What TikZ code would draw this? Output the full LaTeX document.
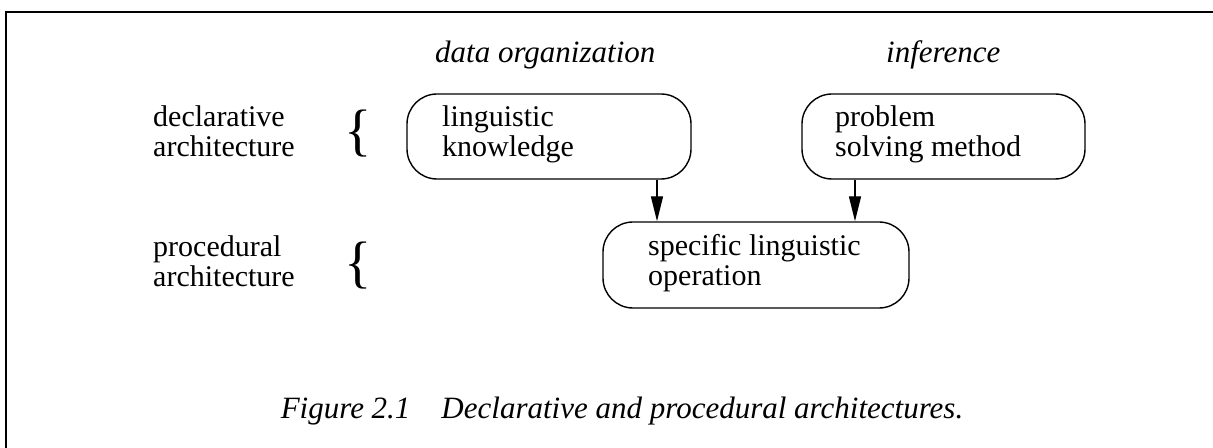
\documentclass[tikz,border=0pt]{standalone}
\usepackage{fontspec}
\setmainfont{Liberation Serif}
\usetikzlibrary{arrows.meta}
\begin{document}
\begin{tikzpicture}[x=1bp,y=-1bp,
  lbl/.style={inner sep=0pt, anchor=base west, font=\fontsize{30bp}{30bp}\selectfont},
  hdr/.style={inner sep=0pt, anchor=base west, font=\fontsize{31bp}{31bp}\selectfont\itshape},
  roundbox/.style={draw, line width=1.4bp, rounded corners=30bp, inner sep=0pt},
  brc/.style={inner sep=0pt, anchor=base, font=\fontsize{57bp}{57bp}\selectfont},
  arr/.style={line width=1.4bp, -{Triangle[length=25bp,width=12bp]}}
]
\useasboundingbox (0,0) rectangle (1213,448);
% frame
\coordinate (fbl) at (6,448);
\coordinate (ftl) at (6,12);
\coordinate (ftr) at (1213,12);
\draw[line width=2bp] (fbl) -- (ftl) -- (ftr);

% headers
\node[hdr] (h1) at (435,63) {data organization};
\node[hdr] (h2) at (886,63) {inference};

% boxes
\node[roundbox, minimum width=284bp, minimum height=85bp] (lk) at (549,136.5) {};
\node[roundbox, minimum width=283bp, minimum height=85bp] (ps) at (943.5,136.5) {};
\node[roundbox, minimum width=306bp, minimum height=86bp] (op) at (756,265) {};

% box texts
\node[lbl] (lk1) at (442,127) {linguistic};
\node[lbl] (lk2) at (442,157) {knowledge};
\node[lbl] (ps1) at (835,127) {problem};
\node[lbl] (ps2) at (835,157) {solving method};
\node[lbl] (op1) at (648,255.5) {specific linguistic};
\node[lbl] (op2) at (648,285.5) {operation};

% left labels
\node[lbl] (d1) at (153,127) {declarative};
\node[lbl] (d2) at (153,157) {architecture};
\node[lbl] (p1) at (153,257) {procedural};
\node[lbl] (p2) at (153,287) {architecture};

% braces
\node[brc] (b1) at (358.5,149.5) {\{};
\node[brc] (b2) at (358.5,281.5) {\{};

% arrows
\coordinate (a1) at (657,0);
\coordinate (a2) at (855,0);
\draw[arr] (lk.south -| a1) -- (op.north -| a1);
\draw[arr] (ps.south -| a2) -- (op.north -| a2);

% caption
\node[inner sep=0pt, anchor=base, font=\fontsize{31bp}{31bp}\selectfont\itshape] (cap) at (622,419) {Figure 2.1\hspace{1em}Declarative and procedural architectures.};
\end{tikzpicture}
\end{document}
